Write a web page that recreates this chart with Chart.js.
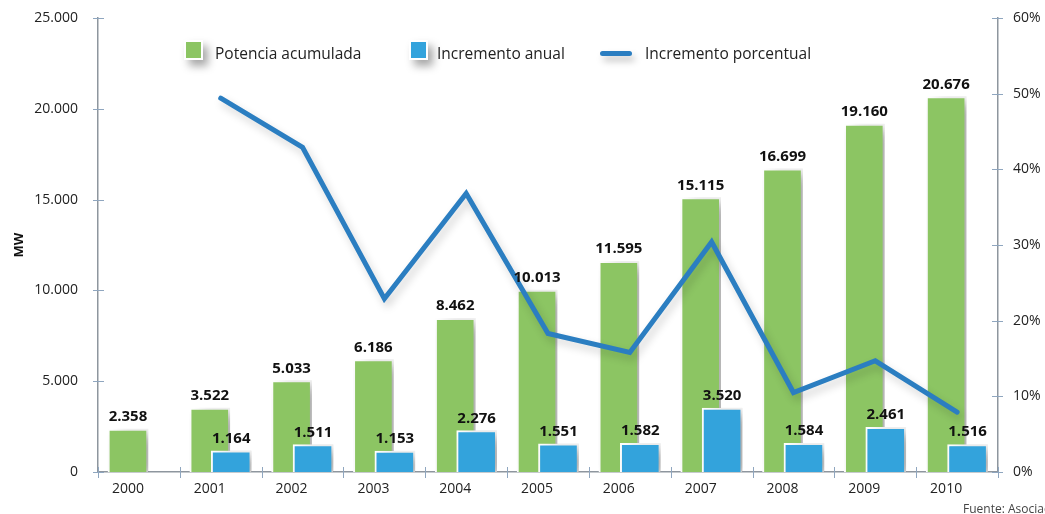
<!DOCTYPE html>
<html>
<head>
<meta charset="utf-8">
<script src="https://cdn.jsdelivr.net/npm/chart.js@4/dist/chart.umd.min.js"></script>
<style>
  html, body { margin: 0; padding: 0; background: #fff; }
  #wrap { position: relative; width: 1045px; height: 514px; overflow: hidden; font-family: 'Open Sans', sans-serif; }
  canvas { position: absolute; left: 0; top: 0; }
  .lg { position: absolute; font-size: 15.5px; color: #222; line-height: 20px; white-space: nowrap; }
  .box { position: absolute; width: 15px; height: 16px; border: 2px solid #fff; box-shadow: 5px 6px 8px rgba(0,0,0,0.35); }
  .ln { position: absolute; width: 32px; height: 5px; border-radius: 3px; background: #2B7EC1; box-shadow: 3px 5px 7px rgba(0,0,0,0.25); }
  #src { position: absolute; left: 963px; top: 500px; font-size: 12px; color: #444; white-space: nowrap; }
</style>
</head>
<body>
<div id="wrap">
  <canvas id="c" width="1045" height="514"></canvas>
  <div class="box" style="left:184px;top:40px;background:#8CC563;"></div>
  <div class="lg" style="left:215px;top:43px;">Potencia acumulada</div>
  <div class="box" style="left:409px;top:40px;background:#33A3DC;"></div>
  <div class="lg" style="left:437px;top:43px;">Incremento anual</div>
  <div class="ln" style="left:600px;top:51px;"></div>
  <div class="lg" style="left:645px;top:43px;">Incremento porcentual</div>
  <div id="src">Fuente: Asociación Empresarial Eólica</div>
</div>
<script>
const years = ['2000','2001','2002','2003','2004','2005','2006','2007','2008','2009','2010'];
const potenciaAcumulada = [2358, 3522, 5033, 6186, 8462, 10013, 11595, 15115, 16699, 19160, 20676];
const incrementoAnual = [null, 1164, 1511, 1153, 2276, 1551, 1582, 3520, 1584, 2461, 1516];
const incrementoPorcentual = [null, 49.4, 42.9, 22.9, 36.8, 18.3, 15.8, 30.4, 10.5, 14.7, 7.9];
const mwTicks = [0, 5000, 10000, 15000, 20000, 25000];
const pctTicks = [0, 10, 20, 30, 40, 50, 60];

const GREEN = '#8CC563', BLUE = '#33A3DC', LINE = '#2B7EC1', AXIS = '#8E969E', TICKC = '#8FA6BF';
const FONT = "'Open Sans', sans-serif";
const fmt = v => String(v).replace(/\B(?=(\d{3})+(?!\d))/g, '.');

const greenData = potenciaAcumulada.map((v, i) => ({x: i, y: v}));
const blueData = incrementoAnual.map((v, i) => ({x: i, y: v})).filter(p => p.y !== null);

const shadowPlugin = {
  id: 'shadow',
  beforeDatasetDraw(chart, args) {
    const ctx = chart.ctx;
    const isLine = chart.data.datasets[args.index].type === 'line';
    ctx.save();
    if (isLine) {
      ctx.shadowColor = 'rgba(0,0,0,0.18)';
      ctx.shadowBlur = 8;
      ctx.shadowOffsetX = 3;
      ctx.shadowOffsetY = 5;
    } else {
      ctx.shadowColor = 'rgba(0,0,0,0.33)';
      ctx.shadowBlur = 14;
      ctx.shadowOffsetX = 9;
      ctx.shadowOffsetY = 4;
    }
  },
  afterDatasetDraw(chart) { chart.ctx.restore(); }
};

const labelPlugin = {
  id: 'vlabels',
  afterDatasetsDraw(chart) {
    const ctx = chart.ctx;
    ctx.save();
    ctx.font = "bold 15px " + FONT;
    ctx.fillStyle = '#111';
    ctx.textAlign = 'center';
    ctx.textBaseline = 'alphabetic';
    [0, 1].forEach(di => {
      const meta = chart.getDatasetMeta(di);
      const ds = chart.data.datasets[di];
      meta.data.forEach((el, j) => {
        ctx.fillText(fmt(ds.data[j].y), el.x, el.y - 8);
      });
    });
    ctx.restore();
  }
};

const tickPlugin = {
  id: 'tickmarks',
  afterDraw(chart) {
    const ctx = chart.ctx, a = chart.chartArea;
    const y = chart.scales.y, y2 = chart.scales.y2, x = chart.scales.x;
    ctx.save();
    ctx.strokeStyle = TICKC;
    ctx.lineWidth = 1;
    ctx.beginPath();
    y.ticks.forEach(t => { const p = Math.round(y.getPixelForValue(t.value)) + 0.5; ctx.moveTo(a.left - 5, p); ctx.lineTo(a.left + 6, p); });
    y2.ticks.forEach(t => { const p = Math.round(y2.getPixelForValue(t.value)) + 0.5; ctx.moveTo(a.right - 6, p); ctx.lineTo(a.right + 5, p); });
    for (let i = 0; i <= years.length; i++) {
      const p = Math.round(x.getPixelForValue(i - 0.5)) + 0.5;
      ctx.moveTo(p, a.bottom - 5); ctx.lineTo(p, a.bottom + 6);
    }
    ctx.stroke();
    ctx.restore();
  }
};

new Chart(document.getElementById('c'), {
  data: {
    labels: years,
    datasets: [
      { type: 'bar', label: 'Potencia acumulada', data: greenData, xAxisID: 'xg', yAxisID: 'y', grouped: false,
        backgroundColor: GREEN, borderColor: '#fff', borderWidth: 2, barThickness: 40, order: 3 },
      { type: 'bar', label: 'Incremento anual', data: blueData, xAxisID: 'xb', yAxisID: 'y', grouped: false,
        backgroundColor: BLUE, borderColor: '#fff', borderWidth: 2, barThickness: 40, order: 2 },
      { type: 'line', label: 'Incremento porcentual', data: incrementoPorcentual, xAxisID: 'x', yAxisID: 'y2',
        borderColor: LINE, borderWidth: 5, pointRadius: 0, tension: 0, fill: false, order: 1,
        borderJoinStyle: 'miter', borderCapStyle: 'round' }
    ]
  },
  options: {
    responsive: false,
    animation: false,
    devicePixelRatio: 1,
    layout: { padding: { top: 18, left: 0, right: 0, bottom: 0 } },
    plugins: { legend: { display: false }, tooltip: { enabled: false } },
    scales: {
      x: { type: 'category', display: false, offset: true },
      xg: { type: 'linear', position: 'bottom', min: -0.366, max: 10.634, offset: false,
        afterBuildTicks: s => { s.ticks = years.map((_, i) => ({ value: i })); },
        afterFit: s => { s.height = 42; s.paddingLeft = 0; s.paddingRight = 0; },
        grid: { display: false, drawTicks: false },
        border: { display: true, color: AXIS, width: 1.5 },
        ticks: { autoSkip: false, maxRotation: 0, padding: 9, color: '#222', font: { family: FONT, size: 14 },
          callback: v => years[v] } },
      xb: { type: 'linear', display: false, min: -0.628, max: 10.372, offset: false },
      y: { type: 'linear', position: 'left', min: 0, max: 25000,
        afterBuildTicks: s => { s.ticks = mwTicks.map(v => ({ value: v })); },
        afterFit: s => { s.width = 98; s.paddingTop = 10; s.paddingBottom = 10; },
        grid: { display: false, drawTicks: false },
        border: { display: true, color: AXIS, width: 1.5 },
        title: { display: true, text: 'MW', color: '#111', font: { family: FONT, size: 13, weight: 'bold' }, padding: { top: 11, bottom: 0 } },
        ticks: { padding: 20, color: '#222', font: { family: FONT, size: 14 }, callback: v => fmt(v) } },
      y2: { type: 'linear', position: 'right', min: 0, max: 60,
        afterBuildTicks: s => { s.ticks = pctTicks.map(v => ({ value: v })); },
        afterFit: s => { s.width = 47; s.paddingTop = 10; s.paddingBottom = 10; },
        grid: { display: false, drawTicks: false },
        border: { display: true, color: AXIS, width: 1.5 },
        ticks: { padding: 15, color: '#222', font: { family: FONT, size: 14 }, callback: v => v + '%' } }
    }
  },
  plugins: [shadowPlugin, labelPlugin, tickPlugin]
});
</script>
</body>
</html>
